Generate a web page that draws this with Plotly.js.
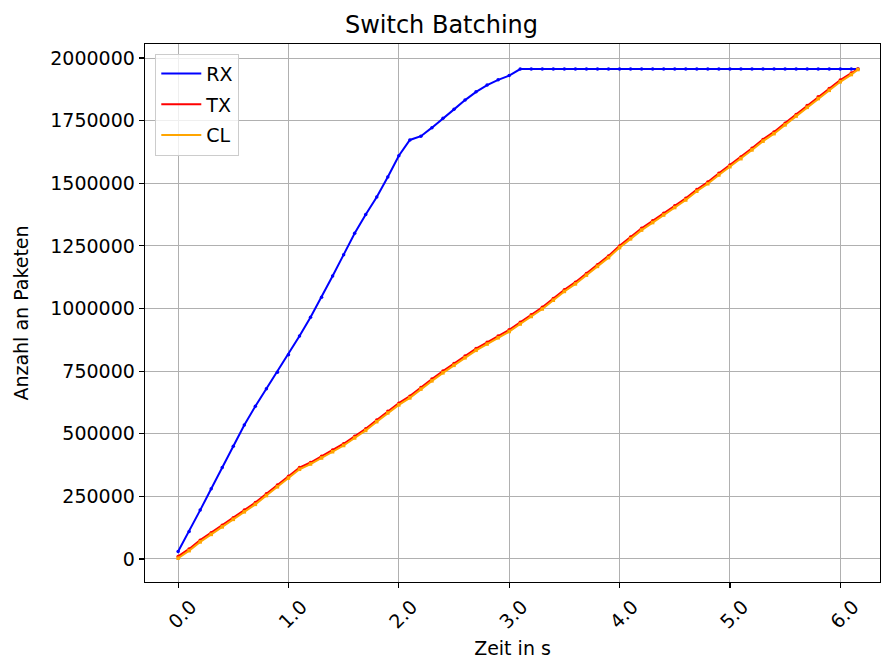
<!DOCTYPE html>
<html>
<head>
<meta charset="utf-8">
<script src="https://cdn.plot.ly/plotly-3.0.1.min.js"></script>
<style>html,body{margin:0;padding:0;background:#fff;}#chart{width:883px;height:663px;}</style>
</head>
<body>
<div id="chart"></div>
<script>
const time = [0.0,0.1,0.2,0.3,0.4,0.5,0.6,0.7,0.8,0.9,1.0,1.1,1.2,1.3,1.4,1.5,1.6,1.7,1.8,1.9,2.0,2.1,2.2,2.3,2.4,2.5,2.6,2.7,2.8,2.9,3.0,3.1,3.2,3.3,3.4,3.5,3.6,3.7,3.8,3.9,4.0,4.1,4.2,4.3,4.4,4.5,4.6,4.7,4.8,4.9,5.0,5.1,5.2,5.3,5.4,5.5,5.6,5.7,5.8,5.9,6.0,6.1,6.16];

const rx = [30000,110000,195000,280000,365000,450000,535000,610000,680000,745000,815000,890000,965000,1045000,1130000,1215000,1300000,1375000,1445000,1525000,1610000,1673000,1688000,1722000,1760000,1795000,1832000,1865000,1892000,1913000,1930000,1956000,
1956000,1956000,1956000,1956000,1956000,1956000,1956000,1956000,1956000,1956000,1956000,1956000,1956000,1956000,1956000,1956000,1956000,1956000,1956000,1956000,1956000,1956000,1956000,1956000,1956000,1956000,1956000,1956000,1956000,1956000,1956000];

const tx = [10000,40000,75000,105000,135000,165000,195000,225000,260000,295000,330000,365000,385000,410000,435000,460000,490000,520000,555000,590000,622000,650000,685000,718000,750000,780000,810000,840000,865000,890000,915000,945000,975000,1005000,1040000,1075000,1105000,1140000,1175000,1210000,1250000,1285000,1320000,1350000,1380000,1410000,1440000,1475000,1505000,1540000,1573000,1605000,1640000,1675000,1705000,1740000,1775000,1810000,1845000,1878000,1912000,1940000,1956000];

const cl = [3000,33000,68000,98000,128000,158000,188000,218000,253000,288000,323000,358000,379000,403000,428000,453000,483000,513000,548000,583000,615000,643000,678000,711000,743000,773000,803000,833000,858000,883000,908000,938000,968000,998000,1033000,1068000,1098000,1133000,1168000,1203000,1243000,1278000,1313000,1343000,1373000,1403000,1433000,1468000,1498000,1533000,1566000,1598000,1633000,1668000,1698000,1733000,1768000,1803000,1838000,1871000,1905000,1934000,1954000];

const seriesNames = ['RX','TX','CL'];
const seriesColors = ['#0000ff','#ff0000','#ffa500'];
const xTicks = [0,1,2,3,4,5,6];
const yTicks = [0,250000,500000,750000,1000000,1250000,1500000,1750000,2000000];

const FONT = 'DejaVu Sans, Liberation Sans, sans-serif';
const seriesData = [rx, tx, cl];
const data = [];
seriesData.forEach((ys, i) => {
  data.push({
    x: time, y: ys, name: seriesNames[i], type: 'scatter', mode: 'lines',
    legendgroup: 'g' + i,
    line: {color: seriesColors[i], width: 2}
  });
  data.push({
    x: time, y: ys, name: seriesNames[i], type: 'scatter', mode: 'markers',
    showlegend: false, legendgroup: 'g' + i,
    marker: {color: seriesColors[i], size: 3.5, symbol: i === 2 ? 'square' : 'circle'}
  });
});

const axisCommon = {
  showline: true, linecolor: '#000', linewidth: 1.3, mirror: true,
  ticks: 'outside', ticklen: 5, tickwidth: 1.2, tickcolor: '#000',
  showgrid: true, gridcolor: '#b0b0b0', gridwidth: 1, zeroline: false,
  tickfont: {family: FONT, size: 19, color: '#000'}
};

const layout = {
  width: 883, height: 663,
  margin: {l: 145, r: 3, t: 44, b: 81},
  paper_bgcolor: '#fff', plot_bgcolor: '#fff',
  font: {family: FONT, size: 19, color: '#000'},
  title: {text: 'Switch Batching', font: {family: FONT, size: 24, color: '#000'}, x: 0.5, xanchor: 'center', y: 0.975, yanchor: 'top'},
  xaxis: Object.assign({}, axisCommon, {
    range: [-0.3, 6.36], tickvals: xTicks, tickformat: '.1f', tickangle: -45,
    ticklabelshift: 13,
    title: {text: 'Zeit in s', font: {family: FONT, size: 19, color: '#000'}, standoff: 10}
  }),
  yaxis: Object.assign({}, axisCommon, {
    range: [-92000, 2056000], tickvals: yTicks, tickformat: 'd',
    title: {text: 'Anzahl an Paketen', font: {family: FONT, size: 19, color: '#000'}, standoff: 16}
  }),
  showlegend: true,
  legend: {
    x: 0.014, y: 0.982, xanchor: 'left', yanchor: 'top',
    bgcolor: 'rgba(255,255,255,0.8)', bordercolor: '#cccccc', borderwidth: 1,
    font: {family: FONT, size: 19, color: '#000'}, itemwidth: 40, tracegroupgap: 3
  }
};

Plotly.newPlot('chart', data, layout, {displayModeBar: false, staticPlot: true});
</script>
</body>
</html>
